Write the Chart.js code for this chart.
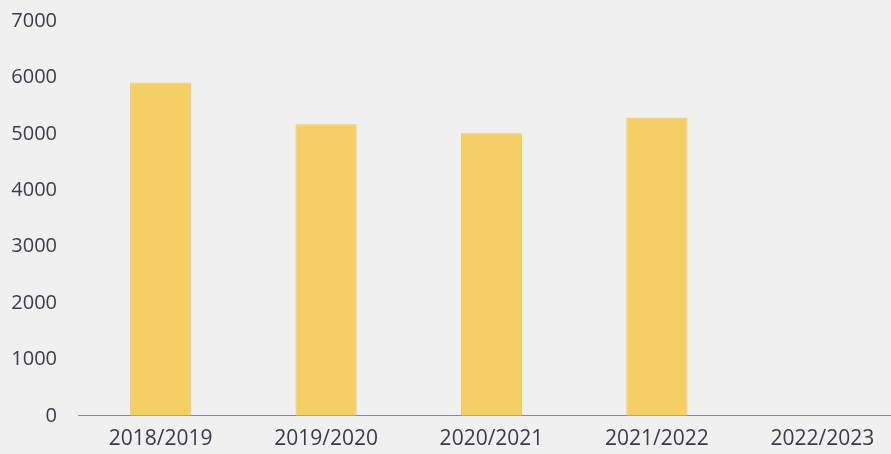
<!DOCTYPE html>
<html>
<head>
<meta charset="utf-8">
<script src="https://cdn.jsdelivr.net/npm/chart.js@4/dist/chart.umd.min.js"></script>
<style>
  html, body { margin: 0; padding: 0; background: #f0f0f0; overflow: hidden; height: 454px; }
  #wrap { position: relative; top: -12px; width: 905px; height: 475px; }
</style>
</head>
<body>
<div id="wrap"><canvas id="seasonChart"></canvas></div>
<script>
const seasons = ['2018/2019', '2019/2020', '2020/2021', '2021/2022', '2022/2023']
const totals = [5910, 5170, 5010, 5290, 0]
const yTicks = [0, 1000, 2000, 3000, 4000, 5000, 6000, 7000]

const BAR_COLOR = '#f4cf66'
const TEXT_COLOR = '#3c3c46'

const ctx = document.getElementById('seasonChart').getContext('2d')
new Chart(ctx, {
  type: 'bar',
  data: {
    labels: seasons,
    datasets: [
      {
        label: 'Total',
        data: totals,
        backgroundColor: BAR_COLOR,
        borderColor: '#f0c650',
        borderWidth: 1,
        categoryPercentage: 1,
        barPercentage: 0.37,
      },
    ],
  },
  options: {
    responsive: true,
    maintainAspectRatio: false,
    animation: false,
    layout: { padding: { top: 0, left: 0, right: 0, bottom: 0 } },
    plugins: {
      legend: { display: false },
      tooltip: { enabled: false },
    },
    scales: {
      x: {
        grid: { display: false, drawTicks: false },
        border: { display: true, color: '#8484b0', width: 1 },
        ticks: {
          color: TEXT_COLOR,
          font: { family: 'Open Sans', size: 21 },
          padding: 11,
          maxRotation: 0,
        },
      },
      y: {
        min: 0,
        max: 7000,
        afterBuildTicks: (axis) => {
          axis.ticks = yTicks.map((v) => ({ value: v }))
        },
        afterFit: (axis) => {
          axis.width = 78
        },
        grid: { display: false, drawTicks: false },
        border: { display: false },
        ticks: {
          color: TEXT_COLOR,
          font: { family: 'Open Sans', size: 20 },
          padding: 21,
          callback: (v) => String(v),
        },
      },
    },
  },
})
</script>
</body>
</html>
